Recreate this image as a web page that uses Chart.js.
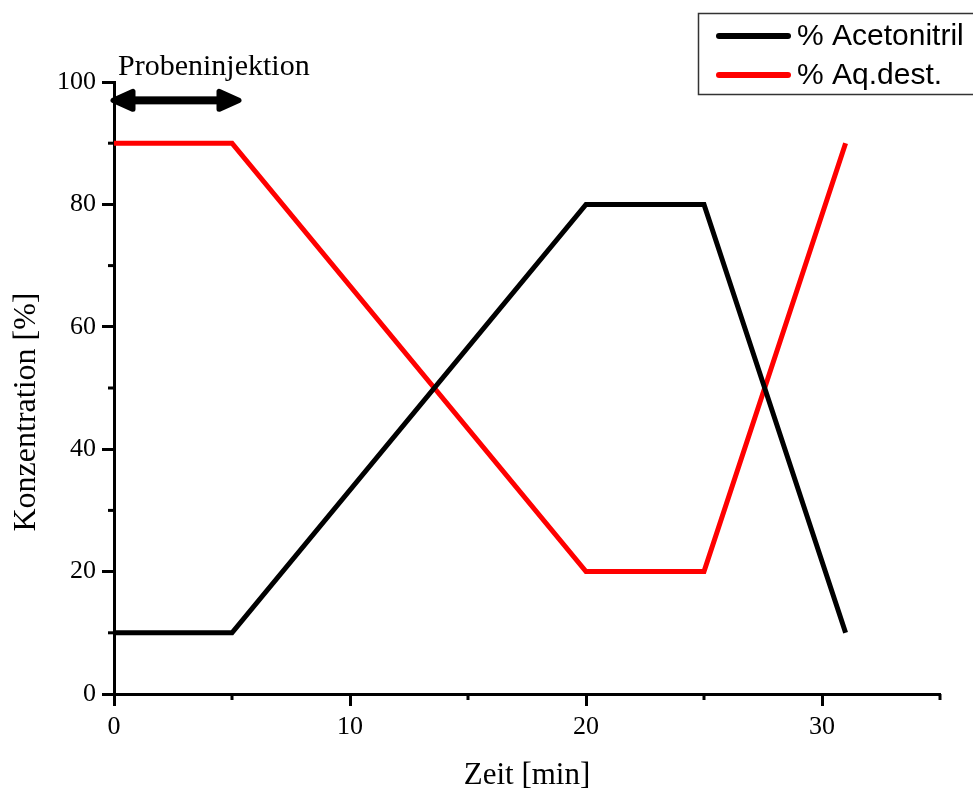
<!DOCTYPE html>
<html>
<head>
<meta charset="utf-8">
<script src="https://cdn.jsdelivr.net/npm/chart.js"></script>
<style>
  html, body { margin: 0; padding: 0; background: #fff; }
  #wrap { width: 973px; height: 789px; }
</style>
</head>
<body>
<div id="wrap"><canvas id="gradient_chart" width="973" height="789"></canvas></div>
<script>
// time program of the gradient
const zeit = [0, 5, 20, 25, 31];
const acetonitril = [10, 10, 80, 80, 10];
const aqDest = [90, 90, 20, 20, 90];
const seriesNames = ['% Acetonitril', '% Aq.dest.'];
// injection marker: from .. to (min) at level (%)
const injektion = [0, 5];
const injektionLevel = 97;
const injektionText = 'Probeninjektion';

const serif = "'Liberation Serif', 'Times New Roman', serif";
const sans = "'Liberation Sans', Arial, sans-serif";

let ctx = document.getElementById('gradient_chart').getContext('2d');

// small ticks between the labelled ones
const minorTicks = {
    id: 'minorTicks',
    afterDraw(chart) {
        const c = chart.ctx;
        const xs = chart.scales.x, ys = chart.scales.y;
        c.save();
        c.strokeStyle = '#000';
        c.lineWidth = 3;
        xs.ticks.forEach(t => {
            if (t.value % 10 !== 0) {
                const px = xs.getPixelForValue(t.value);
                c.beginPath();
                c.moveTo(px, ys.bottom);
                c.lineTo(px, ys.bottom + 6);
                c.stroke();
            }
        });
        ys.ticks.forEach(t => {
            if (t.value % 20 !== 0) {
                const py = ys.getPixelForValue(t.value);
                c.beginPath();
                c.moveTo(xs.left, py);
                c.lineTo(xs.left - 6, py);
                c.stroke();
            }
        });
        c.restore();
    }
};

// double arrow + text
const injektionArrow = {
    id: 'injektionArrow',
    afterDatasetsDraw(chart) {
        const c = chart.ctx;
        const xs = chart.scales.x, ys = chart.scales.y;
        const x0 = xs.getPixelForValue(injektion[0]) - 1;
        const x1 = xs.getPixelForValue(injektion[1]) + 7;
        const y = ys.getPixelForValue(injektionLevel);
        c.save();
        c.fillStyle = '#000';
        c.strokeStyle = '#000';
        c.lineJoin = 'round';
        c.lineWidth = 5;
        c.fillRect(x0 + 15, y - 4, (x1 - x0) - 30, 8);
        c.beginPath();
        c.moveTo(x0, y);
        c.lineTo(x0 + 20, y - 9);
        c.lineTo(x0 + 20, y + 9);
        c.closePath();
        c.fill(); c.stroke();
        c.beginPath();
        c.moveTo(x1, y);
        c.lineTo(x1 - 20, y - 9);
        c.lineTo(x1 - 20, y + 9);
        c.closePath();
        c.fill(); c.stroke();
        c.font = '30px ' + serif;
        c.textAlign = 'left';
        c.textBaseline = 'alphabetic';
        c.fillText(injektionText, xs.getPixelForValue(injektion[0]) + 4, 75);
        c.restore();
    }
};

// boxed legend in the upper right corner
const boxLegend = {
    id: 'boxLegend',
    afterDraw(chart) {
        const c = chart.ctx;
        c.save();
        c.strokeStyle = '#333';
        c.lineWidth = 1.5;
        c.strokeRect(698.5, 13.5, 290, 81);
        c.font = '30px ' + sans;
        c.textBaseline = 'middle';
        chart.data.datasets.forEach((ds, i) => {
            const y = 36 + i * 39;
            c.strokeStyle = ds.borderColor;
            c.lineWidth = 6;
            c.lineCap = 'round';
            c.beginPath();
            c.moveTo(719, y);
            c.lineTo(788, y);
            c.stroke();
            c.fillStyle = '#000';
            c.fillText(ds.label, 797, y + 1);
        });
        c.restore();
    }
};

let myChart = new Chart(ctx, {
    type: 'line',
    data: {
        datasets: [
            {
                label: seriesNames[0],
                data: zeit.map((t, i) => ({x: t, y: acetonitril[i]})),
                borderColor: '#000000',
                borderWidth: 5,
                pointRadius: 0,
                tension: 0,
                fill: false
            },
            {
                label: seriesNames[1],
                data: zeit.map((t, i) => ({x: t, y: aqDest[i]})),
                borderColor: '#ff0000',
                borderWidth: 5,
                pointRadius: 0,
                tension: 0,
                fill: false
            }
        ]
    },
    options: {
        responsive: false,
        animation: false,
        maintainAspectRatio: false,
        layout: {
            padding: { left: 0, right: 33, top: 82, bottom: 0 }
        },
        plugins: {
            legend: { display: false },
            tooltip: { enabled: false }
        },
        scales: {
            x: {
                type: 'linear',
                min: 0,
                max: 35,
                afterFit: s => { s.height = 95; },
                ticks: {
                    stepSize: 5,
                    autoSkip: false,
                    maxRotation: 0,
                    padding: 6,
                    color: '#000',
                    font: { family: serif, size: 26 },
                    callback: v => (v % 10 === 0 ? v : '')
                },
                grid: {
                    drawOnChartArea: false,
                    drawTicks: true,
                    tickLength: 12,
                    tickWidth: 3,
                    tickColor: c => (c.tick && c.tick.value % 10 === 0 ? '#000' : 'rgba(0,0,0,0)')
                },
                border: { display: true, color: '#000', width: 3 },
                title: {
                    display: true,
                    text: 'Zeit [min]',
                    color: '#000',
                    font: { family: serif, size: 31, lineHeight: 0.85 },
                    padding: { top: 0, bottom: 0 }
                }
            },
            y: {
                min: 0,
                max: 100,
                afterFit: s => { s.width = 114; },
                ticks: {
                    stepSize: 10,
                    autoSkip: false,
                    padding: 6,
                    color: '#000',
                    font: { family: serif, size: 26 },
                    callback: v => (v % 20 === 0 ? v : '')
                },
                grid: {
                    drawOnChartArea: false,
                    drawTicks: true,
                    tickLength: 12,
                    tickWidth: 3,
                    tickColor: c => (c.tick && c.tick.value % 20 === 0 ? '#000' : 'rgba(0,0,0,0)')
                },
                border: { display: true, color: '#000', width: 3 },
                title: {
                    display: true,
                    text: 'Konzentration [%]\u00a0\u00a0\u00a0\u00a0\u00a0\u00a0',
                    color: '#000',
                    font: { family: serif, size: 32, lineHeight: 1 },
                    padding: { top: 11, bottom: 0 }
                }
            }
        }
    },
    plugins: [minorTicks, injektionArrow, boxLegend]
});
</script>
</body>
</html>
